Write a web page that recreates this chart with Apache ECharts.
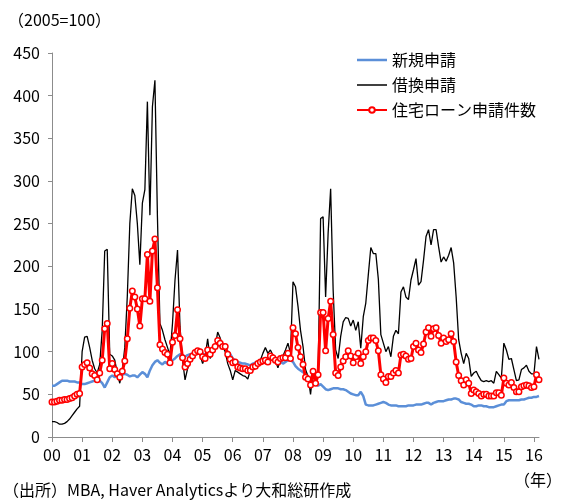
<!DOCTYPE html>
<html>
<head>
<meta charset="utf-8">
<script src="https://cdn.jsdelivr.net/npm/echarts@6/dist/echarts.min.js"></script>
<style>
  html, body { margin: 0; padding: 0; background: #fff; }
  #chart { width: 566px; height: 503px; }
</style>
</head>
<body>
<div id="chart"></div>
<script>
// monthly, 2000-01 .. 2016-03 (2005=100)
const newApps = [
  60, 60, 62, 64, 66, 66, 66, 65, 65, 65, 64, 64,
  62, 62, 63, 64, 65, 66, 67, 66, 63, 58, 64, 70,
  72, 70, 72, 72, 73, 74, 73, 71, 72, 72, 70, 73,
  76, 74, 70, 78, 84, 88, 90, 87, 85, 88, 86, 86,
  90, 92, 95, 97, 96, 94, 96, 97, 98, 99, 98, 100,
  98, 96, 100, 98, 102, 105, 108, 106, 105, 104, 100, 97,
  92, 90, 88, 87, 86, 86, 85, 84, 86, 87, 88, 89,
  90, 91, 93, 92, 92, 92, 91, 89, 86, 88, 90, 90,
  88, 83, 80, 78, 76, 74, 71, 68, 66, 62, 60, 62,
  59, 56, 55, 56, 57, 57, 57, 56, 56, 55, 53, 51,
  50, 49, 49, 53, 48, 38, 37, 37, 37, 38, 39, 40,
  41, 40, 38, 37, 37, 37, 36, 36, 36, 36, 37, 37,
  37, 38, 38, 38, 39, 40, 40, 38, 40, 41, 42, 42,
  42, 43, 44, 44, 45, 45, 44, 41, 40, 39, 39, 38,
  36, 36, 37, 37, 36, 36, 35, 35, 35, 36, 37, 38,
  38, 42, 43, 43, 43, 43, 43, 44, 44, 45, 46, 46,
  47, 47, 48
];
const refiApps = [
  18, 18, 17, 15, 15, 16, 18, 21, 25, 29, 33, 36,
  100, 117, 118, 105, 90, 80, 75, 85, 125, 218, 220, 97,
  95, 90, 75, 63, 78, 105, 165, 250, 291, 283, 250, 202,
  274, 290, 393, 260, 387, 418, 258, 133, 125, 114, 105, 96,
  133, 184, 219, 129, 90, 67, 80, 88, 94, 100, 98, 96,
  86, 94, 115, 92, 98, 106, 123, 116, 106, 100, 86, 78,
  67, 78, 76, 74, 72, 71, 68, 78, 83, 86, 88, 90,
  98, 105, 98, 102, 96, 90, 81, 91, 95, 102, 110, 98,
  182, 176, 153, 125, 106, 79, 71, 50, 78, 67, 71, 256,
  258, 164, 239, 291, 172, 102, 92, 118, 135, 140, 139, 130,
  137, 125, 135, 104, 141, 157, 190, 222, 215, 215, 185, 120,
  110, 100, 106, 94, 118, 125, 121, 170, 176, 164, 161, 184,
  196, 209, 178, 182, 207, 235, 243, 225, 243, 243, 223, 205,
  211, 206, 213, 222, 204, 164, 114, 98, 86, 98, 92, 71,
  75, 77, 71, 66, 65, 66, 65, 66, 63, 77, 73, 69,
  110, 102, 91, 92, 79, 66, 67, 79, 81, 84, 77, 74,
  74, 106, 91
];
const totalApps = [
  41, 41, 42, 43, 43, 44, 44, 45, 46, 48, 50, 51,
  82, 85, 87, 81, 74, 72, 67, 75, 90, 127, 133, 80,
  86, 79, 74, 70, 77, 89, 115, 151, 171, 164, 150, 130,
  162, 162, 214, 159, 218, 232, 175, 108, 103, 99, 97, 87,
  111, 119, 149, 115, 93, 82, 86, 91, 95, 99, 101, 100,
  94, 92, 102, 97, 102, 106, 113, 110, 106, 106, 97, 91,
  87, 88, 82, 81, 80, 80, 78, 78, 82, 83, 86, 88,
  89, 90, 88, 95, 93, 90, 88, 92, 93, 93, 98, 92,
  128, 121, 105, 94, 85, 70, 68, 61, 77, 63, 73, 146,
  146, 101, 139, 159, 120, 75, 72, 82, 89, 94, 101, 95,
  87, 94, 98, 86, 94, 100, 113, 116, 116, 113, 101, 73,
  68, 64, 71, 71, 75, 78, 75, 96, 97, 95, 91, 92,
  106, 110, 102, 99, 109, 123, 128, 118, 127, 128, 119, 110,
  116, 112, 114, 121, 112, 88, 72, 66, 61, 67, 63, 51,
  55, 53, 51, 48, 50, 50, 48, 48, 48, 52, 52, 49,
  69, 63, 61, 64, 58, 53, 53, 59, 60, 61, 60, 58,
  59, 73, 67
];
const seriesNames = ['新規申請', '借換申請', '住宅ローン申請件数'];

const months = [];
for (let i = 0; i < totalApps.length; i++) {
  const y = 2000 + Math.floor(i / 12);
  const m = (i % 12) + 1;
  months.push(y + '-' + (m < 10 ? '0' + m : m));
}

const font = '"Noto Sans CJK JP", "Liberation Sans", sans-serif';
const isJan = (idx) => idx % 12 === 0;

const option = {
  animation: false,
  textStyle: { fontFamily: font },
  grid: { left: 52, right: 27, top: 53, bottom: 66 },
  legend: {
    orient: 'vertical',
    left: 351,
    top: 47,
    itemWidth: 30,
    itemHeight: 7,
    itemGap: 9,
    textStyle: { fontSize: 16, color: '#000', fontFamily: font },
    data: [
      { name: seriesNames[0], icon: 'path://M0,0 L30,0 L30,2.5 L0,2.5 Z' },
      { name: seriesNames[1], icon: 'path://M0,0 L30,0 L30,1.5 L0,1.5 Z' },
      { name: seriesNames[2] }
    ]
  },
  xAxis: {
    type: 'category',
    data: months,
    boundaryGap: false,
    axisLine: { lineStyle: { color: '#8c8c8c', width: 1 } },
    axisTick: { interval: isJan, length: 5, lineStyle: { color: '#8c8c8c' } },
    axisLabel: {
      interval: isJan,
      margin: 10,
      fontSize: 16,
      color: '#000',
      formatter: (v) => v.slice(2, 4)
    },
    splitLine: { show: false }
  },
  yAxis: {
    type: 'value',
    min: 0,
    max: 450,
    interval: 50,
    axisLine: { show: true, lineStyle: { color: '#8c8c8c', width: 1 } },
    axisTick: { show: true, length: 4, lineStyle: { color: '#8c8c8c' } },
    axisLabel: { fontSize: 16, color: '#000', margin: 12 },
    splitLine: { show: false }
  },
  series: [
    {
      name: seriesNames[0],
      type: 'line',
      data: newApps,
      symbol: 'none',
      color: '#5b8fd8',
      lineStyle: { color: '#5b8fd8', width: 2.5 }
    },
    {
      name: seriesNames[1],
      type: 'line',
      data: refiApps,
      symbol: 'none',
      color: '#000',
      lineStyle: { color: '#000', width: 1.3 }
    },
    {
      name: seriesNames[2],
      type: 'line',
      data: totalApps,
      symbol: 'circle',
      symbolSize: 5.5,
      showAllSymbol: true,
      color: '#ff0000',
      lineStyle: { color: '#ff0000', width: 3 },
      itemStyle: { color: '#fff', borderColor: '#ff0000', borderWidth: 1.5 }
    }
  ],
  graphic: [
    {
      type: 'text', left: 8, top: 12,
      style: { text: '（2005=100）', fill: '#000', font: '16px ' + font }
    },
    {
      type: 'text', left: 3, top: 482,
      style: { text: '（出所）MBA, Haver Analyticsより大和総研作成', fill: '#000', font: '16px ' + font }
    },
    {
      type: 'text', right: 4, top: 472,
      style: { text: '（年）', fill: '#000', font: '16px ' + font }
    }
  ]
};

const myChart = echarts.init(document.getElementById('chart'));
myChart.setOption(option);
window.addEventListener('resize', function () {
  myChart.resize();
});
</script>
</body>
</html>
